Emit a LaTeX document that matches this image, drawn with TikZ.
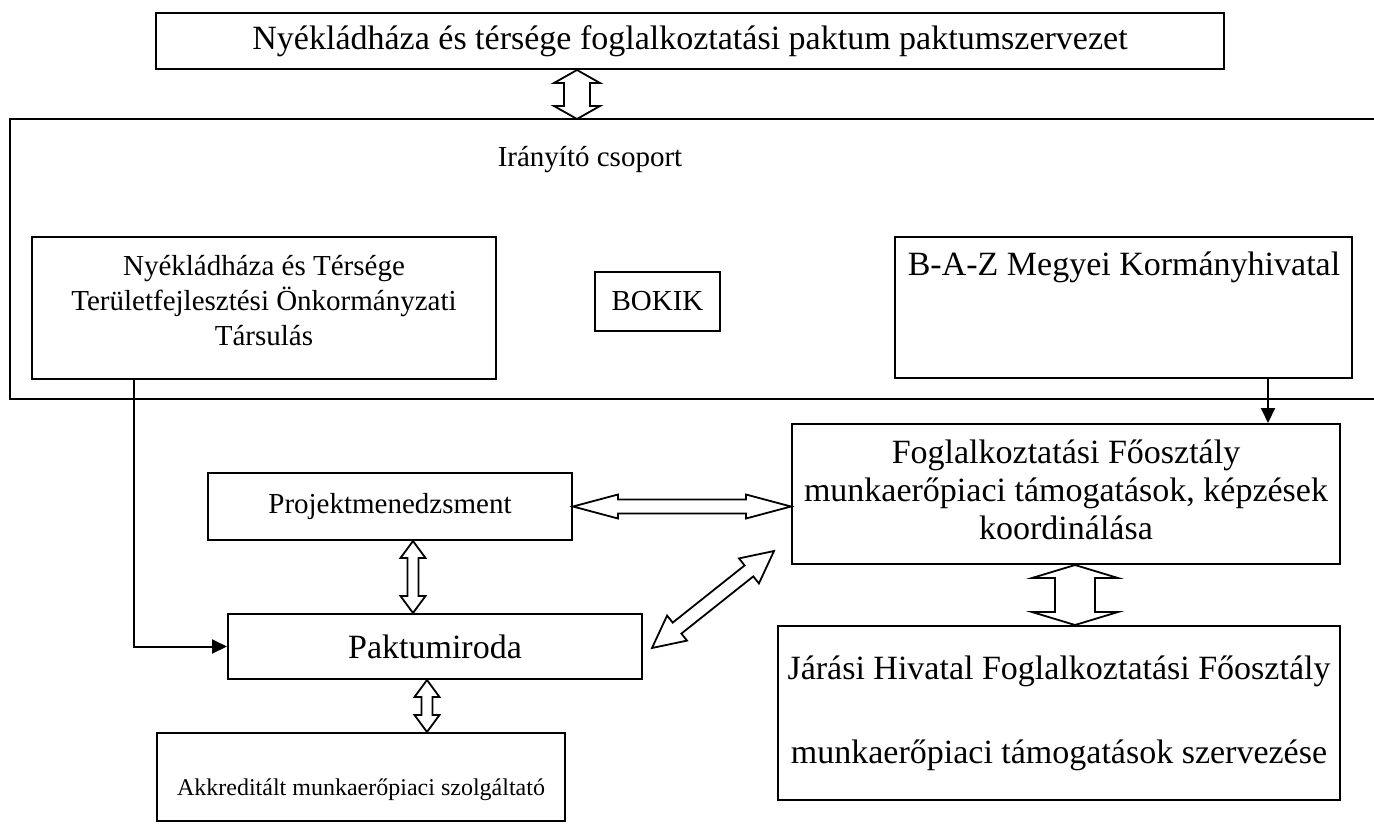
\documentclass[tikz,border=0pt]{standalone}
\usepackage{fontspec}
\setmainfont{Liberation Serif}
\usetikzlibrary{calc,arrows.meta}

% hollow double arrow: from, to, shaft half width, head half width, head length
\newcommand\hollowarrow[5]{%
  \coordinate (ha) at ($(#1)!#5!(#2)$);
  \coordinate (hb) at ($(#2)!#5!(#1)$);
  \draw[hollow] (#1) -- ($(ha)!#4!90:(#2)$) -- ($(ha)!#3!90:(#2)$)
    -- ($(hb)!#3!-90:(#1)$) -- ($(hb)!#4!-90:(#1)$) -- (#2)
    -- ($(hb)!#4!90:(#1)$) -- ($(hb)!#3!90:(#1)$)
    -- ($(ha)!#3!-90:(#2)$) -- ($(ha)!#4!-90:(#2)$) -- cycle;}
\newcommand\bigtext{\fontsize{34}{38}\selectfont}

\begin{document}
\begin{tikzpicture}[x=1pt,y=-1pt,
  box/.style={draw,line width=2pt,inner sep=0pt,align=center,font=\bigtext},
  txt/.style={inner sep=0pt,align=center,font=\bigtext},
  norm/.style={font=\fontsize{29}{35}\selectfont},
  small/.style={font=\fontsize{24}{29}\selectfont},
  link/.style={line width=2pt,-{Triangle[length=15pt,width=14pt]}},
  hollow/.style={line width=1.8pt,fill=white,line join=miter}]

\useasboundingbox (0,0) rectangle (1374,823);

\node[box,minimum width=1068pt,minimum height=56pt] (paktum) at (690,41)
  {Nyékládháza és térsége foglalkoztatási paktum paktumszervezet};

% Irányító csoport, open on the right
\draw[line width=2pt] (1374,119) -- (10,119) -- (10,399) -- (1374,399);
\coordinate (grp) at (10,119);
\node[txt,norm] (irany) at (590,160) {Irányító csoport};
\node[box,minimum width=464pt,minimum height=142pt] (tars) at (264,308) {};
\node[txt,norm] (tarstxt) at (264,301)
  {Nyékládháza és Térsége\\Területfejlesztési Önkormányzati\\Társulás};
\node[box,norm,minimum width=125pt,minimum height=59pt] (bokik) at (657.5,301.5) {BOKIK};
\node[box,minimum width=457pt,minimum height=141pt] (baz) at (1123.5,307.5) {};
\node[txt] (baztxt) at (1124,267) {B-A-Z Megyei Kormányhivatal};

% lower boxes
\node[box,minimum width=548pt,minimum height=140pt] (fog) at (1066,494) {};
\node[txt] (fogtxt) at (1066,490)
  {Foglalkoztatási Főosztály\\munkaerőpiaci támogatások, képzések\\koordinálása};
\node[box,norm,minimum width=364pt,minimum height=67pt] (proj) at (390,506.5)
  {Projektmenedzsment};
\node[box,minimum width=414pt,minimum height=65pt] (pakt) at (435,646.5)
  {Paktumiroda};
\node[box,minimum width=562pt,minimum height=174pt] (jar) at (1059,713)
  {Járási Hivatal Foglalkoztatási Főosztály\\[46pt]munkaerőpiaci támogatások szervezése};
\node[box,minimum width=408pt,minimum height=88pt] (akkr) at (361,777) {};
\node[txt,small] (akkrtxt) at (361,790) {Akkreditált munkaerőpiaci szolgáltató};

% plain arrows
\draw[link] ([xshift=-130pt]tars.south) |- (pakt.west);
\draw[link] ([xshift=144.5pt]baz.south) -- ([xshift=144.5pt]baz.south |- fog.north);

% hollow double arrows
\coordinate (a1) at ([xshift=-113pt]paktum.south);
\coordinate (a2) at (a1 |- grp);
\hollowarrow{a1}{a2}{13pt}{23pt}{13pt}
\coordinate (b1) at (proj.east);
\coordinate (b2) at (proj.east -| fog.west);
\hollowarrow{b1}{b2}{7pt}{12pt}{45pt}
\coordinate (c1) at ([xshift=23pt]proj.south);
\coordinate (c2) at (c1 |- pakt.north);
\hollowarrow{c1}{c2}{5.5pt}{12.5pt}{17pt}
\coordinate (d1) at ([xshift=-8pt]pakt.south);
\coordinate (d2) at (d1 |- akkr.north);
\hollowarrow{d2}{d1}{5.5pt}{12.5pt}{17pt}
\coordinate (e1) at ([xshift=9pt,yshift=-1.5pt]pakt.east);
\coordinate (e2) at ([xshift=-17pt,yshift=14pt]fog.south west);
\hollowarrow{e1}{e2}{7pt}{16pt}{32pt}
\coordinate (f1) at ([xshift=9pt]fog.south);
\coordinate (f2) at (f1 |- jar.north);
\hollowarrow{f1}{f2}{20pt}{43pt}{13pt}
\end{tikzpicture}
\end{document}
